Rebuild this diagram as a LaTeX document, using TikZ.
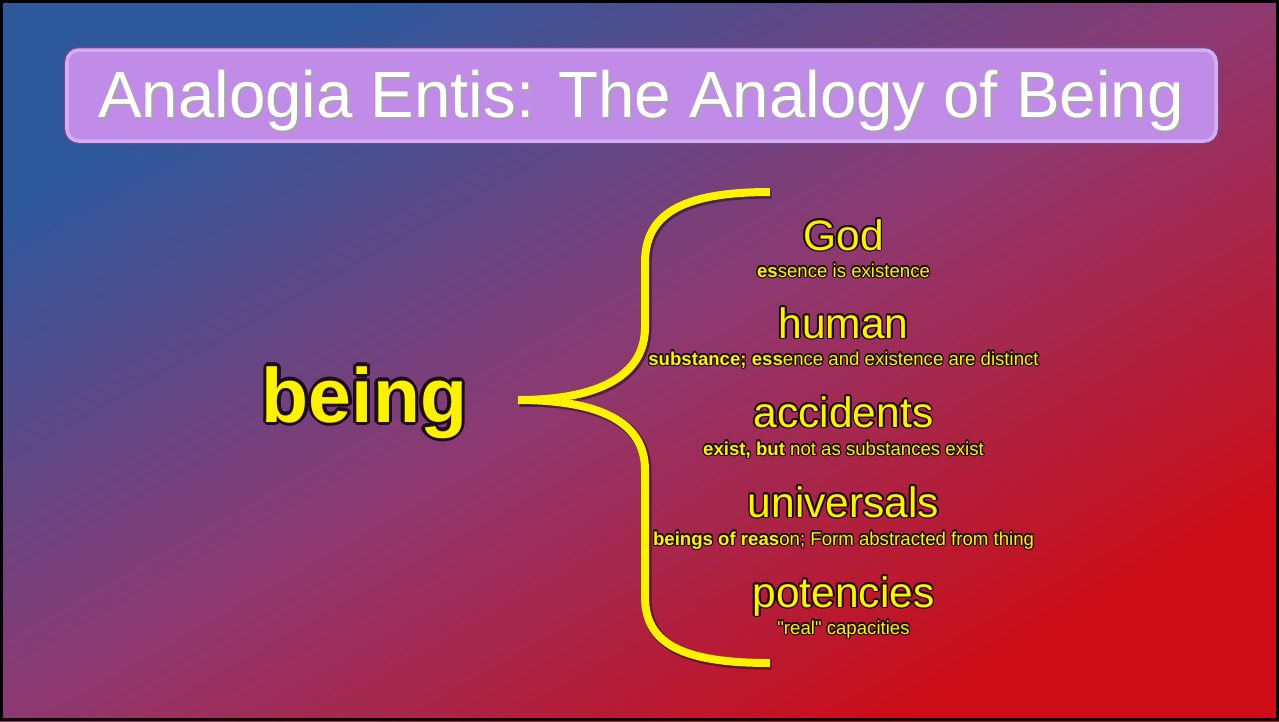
\documentclass[tikz,border=0pt]{standalone}
\usepackage{fontspec}
\setmainfont{Liberation Sans}[Ligatures=TeXOff]
\usepackage{tikz}
\usepackage{xcolor}

\definecolor{bgA}{RGB}{46,88,156}
\definecolor{bgB}{RGB}{142,56,112}
\definecolor{bgC}{RGB}{204,12,22}
\definecolor{titlefill}{RGB}{192,140,232}
\definecolor{titlelight}{RGB}{214,172,242}
\definecolor{titleedge}{RGB}{112,76,150}
\definecolor{glowc}{RGB}{30,14,24}

% dark halo behind a piece of text
\newcommand{\glow}[2][0.5pt]{%
  \foreach \ang in {0,30,...,330}{%
    \pgfmathsetlengthmacro{\gdx}{#1*cos(\ang)}%
    \pgfmathsetlengthmacro{\gdy}{#1*sin(\ang)}%
    \rlap{\kern\gdx\raisebox{\gdy}{\color{glowc}#2}}}%
  #2}

\begin{document}
\begin{tikzpicture}[
    titlebox/.style={draw=titlelight, line width=0.035cm, fill=titlefill,
                     rounded corners=0.12cm, minimum width=11.49cm,
                     minimum height=0.91cm,
                     preaction={draw=titleedge, line width=0.06cm}},
    titletext/.style={anchor=base, inner sep=0pt, text=#1,
                      font=\fontsize{18.6}{20}\selectfont},
    bigword/.style={anchor=base, inner sep=0pt, text=yellow,
                    font=\bfseries\fontsize{21.9}{24}\selectfont},
    item/.style={anchor=base, inner sep=0pt, text=yellow,
                 font=\fontsize{12.1}{14}\selectfont},
    note/.style={anchor=base, inner sep=0pt, text=yellow,
                 font=\fontsize{5.3}{6}\selectfont},
    brace/.style={draw=yellow, line width=0.08cm, line cap=butt,
                  preaction={draw=glowc, opacity=0.55, line width=0.1cm,
                             transform canvas={shift={(0.015,-0.015)}}}},
]
    \useasboundingbox (0,0) rectangle (12.79,-7.21);
    % square shading stretched to the page, so the diagonals match
    \shade[transform canvas={xscale=1.77393},
           top color=bgA, bottom color=bgC, middle color=bgB, shading angle=45]
        (0,0) rectangle (7.21,-7.21);
    \draw[line width=0.03cm] (0.015,-0.015) rectangle (12.775,-7.195);

    % title bar
    \node[titlebox] (titlebar) at (6.415,-0.955) {};
    \node[titletext=gray!70] (titleshadow) at (6.43,-1.19) {Analogia Entis: The Analogy of Being};
    \node[titletext=white]   (title)       at (6.41,-1.17) {Analogia Entis: The Analogy of Being};

    % left word
    \node[bigword] (being) at (3.645,-4.22) {\glow[0.9pt]{being}};

    % the brace
    \coordinate (tip)      at (5.18,-4.00);
    \coordinate (braceTop) at (7.70,-1.92);
    \coordinate (braceBot) at (7.70,-6.63);
    \draw[brace] (braceTop) .. controls (6.80,-1.92) and (6.45,-2.15) .. (6.45,-2.63)
        -- (6.45,-3.27) .. controls (6.45,-3.75) and (6.00,-4.00) .. (tip);
    \draw[brace] (tip) .. controls (6.00,-4.00) and (6.45,-4.22) .. (6.45,-4.70)
        -- (6.45,-5.97) .. controls (6.45,-6.45) and (6.85,-6.63) .. (braceBot);

    % kinds of being
    \node[item] (god)      at (8.435,-2.50) {\glow{God}};
    \node[note] (godnote)  at (8.435,-2.77) {\glow[0.35pt]{\textbf{es}sence is existence}};
    \node[item] (human)    at (8.435,-3.38) {\glow{human}};
    \node[note] (humannote) at (8.435,-3.65) {\glow[0.35pt]{\textbf{substance; ess}ence and existence are distinct}};
    \node[item] (accid)    at (8.435,-4.27) {\glow{accidents}};
    \node[note] (accidnote) at (8.435,-4.55) {\glow[0.35pt]{\textbf{exist, but} not as substances exist}};
    \node[item] (univ)     at (8.435,-5.17) {\glow{universals}};
    \node[note] (univnote) at (8.435,-5.45) {\glow[0.35pt]{\textbf{beings of reas}on; Form abstracted from thing}};
    \node[item] (potent)   at (8.435,-6.07) {\glow{potencies}};
    \node[note] (potentnote) at (8.435,-6.34) {\glow[0.35pt]{"real" capacities}};
\end{tikzpicture}
\end{document}
